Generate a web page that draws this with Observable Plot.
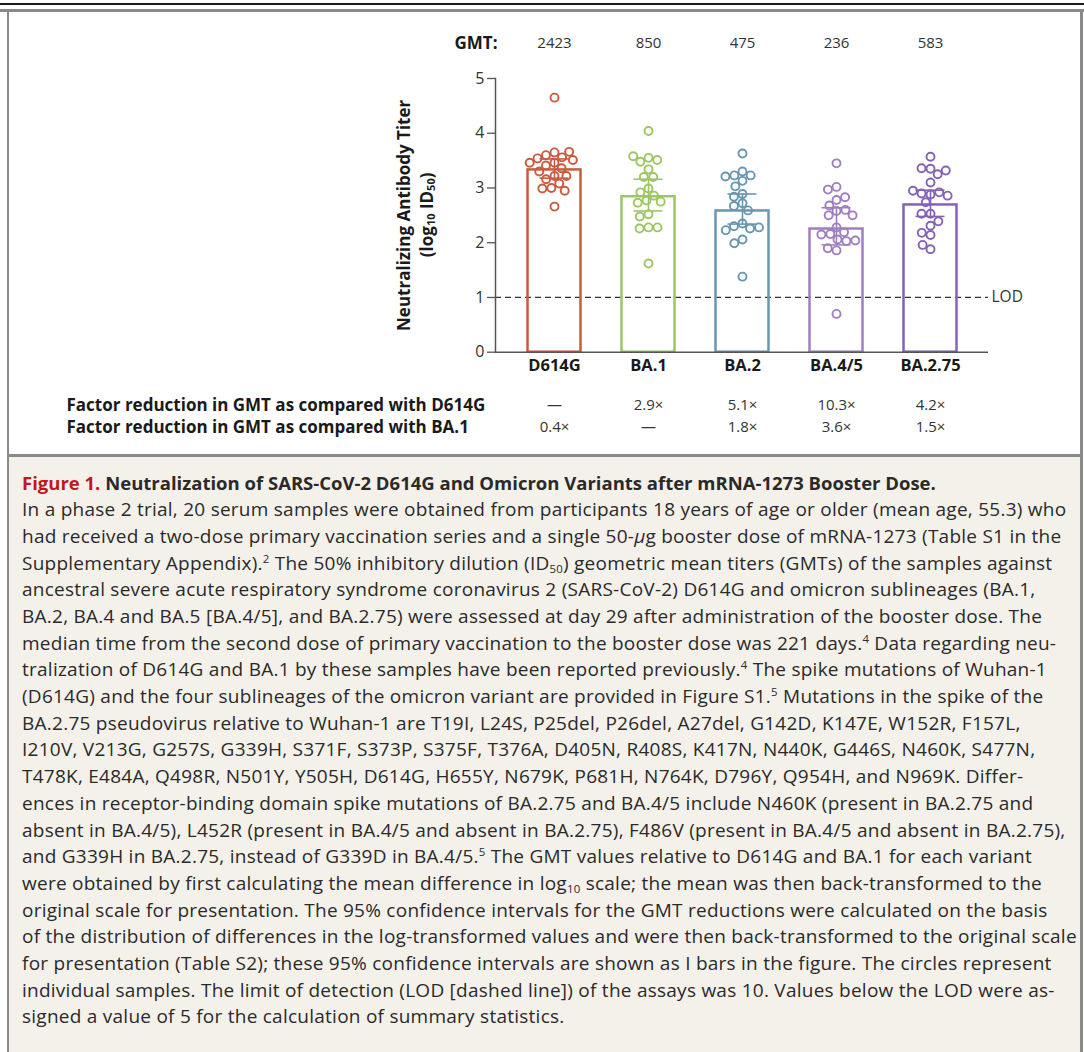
<!DOCTYPE html>
<html><head><meta charset="utf-8">
<script src="https://cdn.jsdelivr.net/npm/d3@7"></script>
<script src="https://cdn.jsdelivr.net/npm/@observablehq/plot@0.6"></script>
<style>
html,body{margin:0;padding:0;}
body{background:#fff;width:1084px;height:1052px;overflow:hidden;position:relative;font-family:"Open Sans",sans-serif;color:#222;}
.abs{position:absolute;}
#chart,#chartbase{position:absolute;left:9px;top:12px;width:1071px;height:442px;}
#caption{position:absolute;left:22px;top:469.6px;width:1060px;font-family:"Open Sans",sans-serif;}
#caption .ln{white-space:nowrap;font-size:19px;letter-spacing:0.25px;line-height:26.7px;height:26.7px;color:#2a2a2a;}
#caption .title{font-weight:bold;font-size:18.5px;letter-spacing:0;}
#caption .title span{color:#c4161c;}
sup{font-size:60%;vertical-align:0.6em;line-height:0;}
sub{font-size:60%;vertical-align:-0.3em;line-height:0;}
</style></head>
<body>
<div class="abs" style="left:0;top:3px;width:1084px;height:1.5px;background:#1a1a1a"></div>
<div class="abs" style="left:0;top:9px;width:1084px;height:3px;background:#8a8a8a"></div>
<div class="abs" style="left:6.5px;top:9px;width:2.5px;height:1043px;background:#8a8a8a"></div>
<div class="abs" style="left:1080px;top:9px;width:2.5px;height:1043px;background:#8a8a8a"></div>
<div class="abs" style="left:9px;top:456.5px;width:1071px;height:596px;background:#f4f1ea"></div>
<div class="abs" style="left:6.5px;top:454px;width:1076px;height:2.5px;background:#8a8a8a"></div>
<div id="chartbase"></div>
<div id="chart"></div>
<div id="caption">
<div class="ln title"><span>Figure 1.</span> Neutralization of SARS-CoV-2 D614G and Omicron Variants after mRNA-1273 Booster Dose.</div>
<div class="ln">In a phase 2 trial, 20 serum samples were obtained from participants 18 years of age or older (mean age, 55.3) who</div>
<div class="ln">had received a two-dose primary vaccination series and a single 50-<i>μ</i>g booster dose of mRNA-1273 (Table S1 in the</div>
<div class="ln">Supplementary Appendix).<sup>2</sup> The 50% inhibitory dilution (ID<sub>50</sub>) geometric mean titers (GMTs) of the samples against</div>
<div class="ln">ancestral severe acute respiratory syndrome coronavirus 2 (SARS-CoV-2) D614G and omicron sublineages (BA.1,</div>
<div class="ln">BA.2, BA.4 and BA.5 [BA.4/5], and BA.2.75) were assessed at day 29 after administration of the booster dose. The</div>
<div class="ln">median time from the second dose of primary vaccination to the booster dose was 221 days.<sup>4</sup> Data regarding neu-</div>
<div class="ln">tralization of D614G and BA.1 by these samples have been reported previously.<sup>4</sup> The spike mutations of Wuhan-1</div>
<div class="ln">(D614G) and the four sublineages of the omicron variant are provided in Figure S1.<sup>5</sup> Mutations in the spike of the</div>
<div class="ln">BA.2.75 pseudovirus relative to Wuhan-1 are T19I, L24S, P25del, P26del, A27del, G142D, K147E, W152R, F157L,</div>
<div class="ln">I210V, V213G, G257S, G339H, S371F, S373P, S375F, T376A, D405N, R408S, K417N, N440K, G446S, N460K, S477N,</div>
<div class="ln">T478K, E484A, Q498R, N501Y, Y505H, D614G, H655Y, N679K, P681H, N764K, D796Y, Q954H, and N969K. Differ-</div>
<div class="ln">ences in receptor-binding domain spike mutations of BA.2.75 and BA.4/5 include N460K (present in BA.2.75 and</div>
<div class="ln">absent in BA.4/5), L452R (present in BA.4/5 and absent in BA.2.75), F486V (present in BA.4/5 and absent in BA.2.75),</div>
<div class="ln">and G339H in BA.2.75, instead of G339D in BA.4/5.<sup>5</sup> The GMT values relative to D614G and BA.1 for each variant</div>
<div class="ln">were obtained by first calculating the mean difference in log<sub>10</sub> scale; the mean was then back-transformed to the</div>
<div class="ln">original scale for presentation. The 95% confidence intervals for the GMT reductions were calculated on the basis</div>
<div class="ln">of the distribution of differences in the log-transformed values and were then back-transformed to the original scale</div>
<div class="ln">for presentation (Table S2); these 95% confidence intervals are shown as I bars in the figure. The circles represent</div>
<div class="ln">individual samples. The limit of detection (LOD [dashed line]) of the assays was 10. Values below the LOD were as-</div>
<div class="ln">signed a value of 5 for the calculation of summary statistics.</div>
</div>
<script>
// ---- data ----
const variants = ["D614G", "BA.1", "BA.2", "BA.4/5", "BA.2.75"];
const colors = ["#c95b3e", "#9dc665", "#6996b0", "#a07fc0", "#8463b5"];
const gmtLabels = ["2423", "850", "475", "236", "583"];
const barLog = [3.33, 2.84, 2.58, 2.25, 2.69];
const ciLow = [3.18, 2.58, 2.34, 1.96, 2.48];
const ciHigh = [3.53, 3.16, 2.89, 2.64, 2.96];
const vsD614G = ["—", "2.9×", "5.1×", "10.3×", "4.2×"];
const vsBA1 = ["0.4×", "—", "1.8×", "3.6×", "1.5×"];
const samplesD614G = [4.65,3.65,3.60,3.56,3.66,3.54,3.51,3.46,3.46,3.41,3.36,3.30,3.22,3.22,3.16,3.08,3.00,2.95,2.99,2.66];
const samplesBA1 = [4.04,3.55,3.48,3.51,3.58,3.34,3.20,3.20,2.99,2.92,2.86,2.77,2.73,2.75,2.52,2.48,2.28,2.26,2.28,1.62];
const samplesBA2 = [3.63,3.30,3.23,3.23,3.13,3.21,3.03,2.89,2.84,2.72,2.67,2.59,2.35,2.30,2.26,2.28,2.23,2.06,1.99,1.38];
const samplesBA45 = [3.45,3.02,2.97,2.78,2.83,2.68,2.58,2.60,2.50,2.50,2.28,2.16,2.19,2.15,2.06,2.03,2.04,1.86,1.90,0.70];
const samplesBA275 = [3.57,3.35,3.36,3.25,3.32,3.10,2.88,2.90,2.92,2.95,2.86,2.74,2.53,2.53,2.31,2.39,2.14,2.18,1.88,1.96];
const lodValue = 1;
const lodLabel = "LOD";
const yTicks = [0, 1, 2, 3, 4, 5];
const rowLabel1 = "Factor reduction in GMT as compared with D614G";
const rowLabel2 = "Factor reduction in GMT as compared with BA.1";

// ---- tables ----
const stats = variants.map((v, i) => ({variant: v, gmt: gmtLabels[i], bar: barLog[i], lo: ciLow[i], hi: ciHigh[i], r1: vsD614G[i], r2: vsBA1[i]}));
const sampleSets = [samplesD614G, samplesBA1, samplesBA2, samplesBA45, samplesBA275];
const points = sampleSets.flatMap((arr, i) => arr.map(value => ({variant: variants[i], value})));
const lod = [{value: lodValue, label: lodLabel}];

const W = 1071, H = 442;
const FONT = "'Open Sans', Lato, sans-serif";
const common = {width: W, height: H, marginTop: 66, marginBottom: 102.3, marginLeft: 486, marginRight: 92};
const placeAbs = el => { el.style.position = "absolute"; el.style.left = "0"; el.style.top = "0"; return el; };

// base layer: axis, LOD line, row labels (shares the same y scale)
const baseLayer = placeAbs(Plot.plot({
  ...common,
  y: {domain: [0, 5]},
  style: {fontFamily: FONT, color: "#222", background: "transparent", overflow: "visible"},
  marks: [
    Plot.ruleY(lod, {y: "value", stroke: "#333", strokeWidth: 1.3, strokeDasharray: "6,4"}),
    Plot.text(lod, {y: "value", text: "label", frameAnchor: "right", textAnchor: "start", lineAnchor: "middle", dx: 3, fontSize: 15.5, fill: "#333"}),
    Plot.axisY({ticks: yTicks, tickSize: 8, tickPadding: 3, fontSize: 16, label: null, stroke: "#555", strokeWidth: 1.3, fill: "#333", tickFormat: d3.format("d")}),
    Plot.text(["GMT:"], {frameAnchor: "top-left", textAnchor: "end", lineAnchor: "middle", dx: 2, dy: -35, fontSize: 17, fontWeight: "bold", fill: "#1a1a1a"}),
    Plot.text([rowLabel1], {frameAnchor: "bottom-left", textAnchor: "start", lineAnchor: "middle", dx: -429, dy: 53, fontSize: 17, fontWeight: "bold", fill: "#1a1a1a"}),
    Plot.text([rowLabel2], {frameAnchor: "bottom-left", textAnchor: "start", lineAnchor: "middle", dx: -429, dy: 75, fontSize: 17, fontWeight: "bold", fill: "#1a1a1a"}),
    Plot.text(["Neutralizing Antibody Titer"], {frameAnchor: "left", textAnchor: "middle", lineAnchor: "middle", rotate: -90, dx: -91, fontSize: 17, fontWeight: "bold", fill: "#1a1a1a"})
  ]
}));
document.getElementById("chartbase").appendChild(baseLayer);

// faceted layer: bars, CIs, samples
const facetLayer = placeAbs(Plot.plot({
  ...common,
  y: {domain: [0, 5], axis: null},
  style: {fontFamily: FONT, color: "#222", background: "transparent", overflow: "visible"},
  fx: {domain: variants, paddingInner: 0, paddingOuter: 0.122},
  color: {domain: variants, range: colors},
  marks: [
    Plot.barY(stats, {fx: "variant", y: "bar", stroke: "variant", strokeWidth: 2.5, fill: "none", insetLeft: 20.5, insetRight: 20.5}),
    Plot.ruleX(stats, {fx: "variant", x: null, y1: "lo", y2: "hi", stroke: "variant", strokeWidth: 1.6}),
    Plot.tickY(stats, {fx: "variant", y: "lo", stroke: "variant", strokeWidth: 1.6, insetLeft: 32.5, insetRight: 32.5}),
    Plot.tickY(stats, {fx: "variant", y: "hi", stroke: "variant", strokeWidth: 1.6, insetLeft: 32.5, insetRight: 32.5}),
    Plot.dot(points, Plot.dodgeX({anchor: "middle", padding: 1, fx: "variant", y: "value", r: 4, stroke: "variant", strokeWidth: 1.9, fill: "none"})),
    Plot.axisFx({anchor: "bottom", tickSize: 0, tickPadding: 7, fontSize: 16.5, fontWeight: "bold", label: null, fill: "#1a1a1a"}),
    Plot.text(stats, {fx: "variant", text: "gmt", frameAnchor: "top", lineAnchor: "middle", dy: -35, fontSize: 15, fill: "#333"}),
    Plot.text(stats, {fx: "variant", text: "r1", frameAnchor: "bottom", lineAnchor: "middle", dy: 53, fontSize: 15, fill: "#333"}),
    Plot.text(stats, {fx: "variant", text: "r2", frameAnchor: "bottom", lineAnchor: "middle", dy: 75, fontSize: 15, fill: "#333"})
  ]
}));
document.getElementById("chart").appendChild(facetLayer);

// axis baseline and left axis line drawn on top
const lineLayer = placeAbs(Plot.plot({
  ...common,
  y: {domain: [0, 5], axis: null},
  style: {background: "transparent", overflow: "visible"},
  marks: [
    Plot.ruleY([0], {stroke: "#555", strokeWidth: 1.5}),
    Plot.frame({anchor: "left", stroke: "#555", strokeWidth: 1.5})
  ]
}));
document.getElementById("chart").appendChild(lineLayer);

// second line of the y-axis title, with subscripts
const svg = d3.select(baseLayer);
const t = svg.append("text")
  .attr("transform", `translate(${486 - 67.5},${(66 + (H - 102.3)) / 2}) rotate(-90)`)
  .attr("text-anchor", "middle").attr("dominant-baseline", "middle")
  .attr("font-size", 17).attr("font-weight", "bold").attr("fill", "#1a1a1a")
  .attr("font-family", FONT);
t.append("tspan").text("(log");
t.append("tspan").attr("font-size", 11).attr("dy", 4).text("10");
t.append("tspan").attr("dy", -4).text(" ID");
t.append("tspan").attr("font-size", 11).attr("dy", 4).text("50");
t.append("tspan").attr("dy", -4).text(")");
</script>
</body></html>
